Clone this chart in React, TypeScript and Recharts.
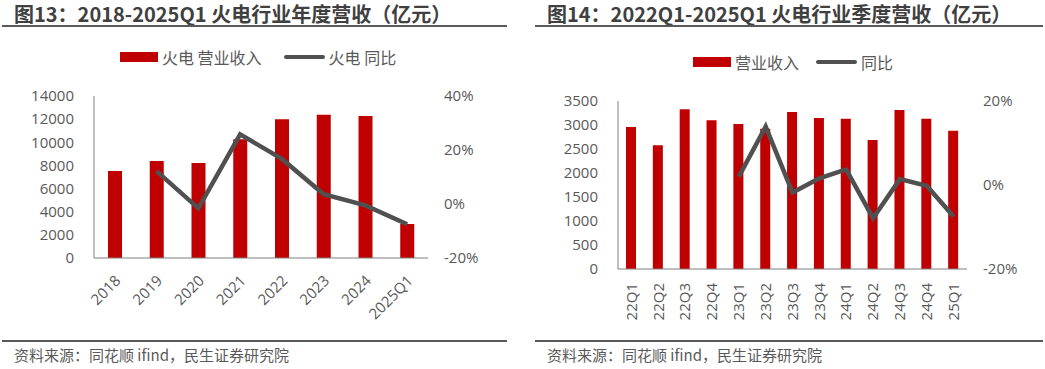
import React from "react";
import { ComposedChart, Bar, Line, XAxis, YAxis } from "recharts";

const yearCats = ["2018", "2019", "2020", "2021", "2022", "2023", "2024", "2025Q1"];
const yearRevenue = [7520, 8380, 8210, 10260, 11990, 12390, 12270, 2940];
const yearYoY: (number | null)[] = [null, 12.2, -1.6, 25.8, 16.7, 3.6, -0.5, -7.5];

const quarterCats = ["22Q1", "22Q2", "22Q3", "22Q4", "23Q1", "23Q2", "23Q3", "23Q4", "24Q1", "24Q2", "24Q3", "24Q4", "25Q1"];
const quarterRevenue = [2960, 2580, 3330, 3100, 3020, 2920, 3270, 3145, 3130, 2690, 3310, 3130, 2880];
const quarterYoY: (number | null)[] = [null, null, null, null, 2.0, 13.9, -1.8, 1.6, 3.7, -7.9, 1.4, -0.2, -7.5];

const leftTicks = [0, 2000, 4000, 6000, 8000, 10000, 12000, 14000];
const leftPctTicks = [-20, 0, 20, 40];
const rightTicks = [0, 500, 1000, 1500, 2000, 2500, 3000, 3500];
const rightPctTicks = [-20, 0, 20];

const yearData = yearCats.map((c, i) => ({ cat: c, rev: yearRevenue[i], yoy: yearYoY[i] }));
const quarterData = quarterCats.map((c, i) => ({ cat: c, rev: quarterRevenue[i], yoy: quarterYoY[i] }));

const RED = "#C00000";
const LINE = "#505050";
const TXT = "#595959";
const AXIS = "#7f7f7f";
const FONT = "'Open Sans', 'Noto Sans CJK SC', sans-serif";
const CJK = "'Noto Sans CJK SC', sans-serif";

const tickStyle = { fill: TXT, fontSize: 15, fontFamily: FONT };

const AngleTick = (props: any) => {
  const { x, y, payload } = props;
  return (
    <g transform={`translate(${x + 3},${y + 12})`}>
      <text x={0} y={0} dy="0.35em" textAnchor="end" transform="rotate(-45)" fill={TXT} fontSize={15} fontFamily={FONT}>
        {payload.value}
      </text>
    </g>
  );
};

const VertTick = (props: any) => {
  const { x, y, payload } = props;
  return (
    <g transform={`translate(${x},${y + 6})`}>
      <text x={0} y={0} dy="0.35em" textAnchor="end" transform="rotate(-90)" fill={TXT} fontSize={15} fontFamily={FONT}>
        {payload.value}
      </text>
    </g>
  );
};

const LegendBox = ({ left, top, items }: { left: number; top: number; items: { type: "bar" | "line"; label: string; gap: number }[] }) => (
  <div style={{ position: "absolute", left, top, display: "flex", alignItems: "center", fontFamily: CJK, fontSize: 16, color: TXT, whiteSpace: "nowrap" }}>
    {items.map((it, i) => (
      <div key={i} style={{ display: "flex", alignItems: "center", marginLeft: i === 0 ? 0 : it.gap }}>
        {it.type === "bar" ? (
          <div style={{ width: 38, height: 10, background: RED }} />
        ) : (
          <div style={{ width: 41, height: 4, borderRadius: 2, background: LINE }} />
        )}
        <span style={{ marginLeft: 4, lineHeight: "20px" }}>{it.label}</span>
      </div>
    ))}
  </div>
);

const Title = ({ left, text }: { left: number; text: string }) => (
  <div style={{ position: "absolute", left, top: 1, fontFamily: CJK, fontWeight: 700, fontSize: 20, color: "#404040", whiteSpace: "nowrap", lineHeight: "26px" }}>
    {text}
  </div>
);

const Rule = ({ left, width, top }: { left: number; width: number; top: number }) => (
  <div style={{ position: "absolute", left, top, width, height: 2, background: "#595959" }} />
);

const Source = ({ left }: { left: number }) => (
  <div style={{ position: "absolute", left, top: 345, fontFamily: CJK, fontSize: 15, color: TXT, whiteSpace: "nowrap", lineHeight: "20px" }}>
    资料来源：同花顺 ifind，民生证券研究院
  </div>
);

export default function App() {
  return (
    <div style={{ position: "absolute", left: 0, top: 0, width: 1045, height: 369, background: "#fff", overflow: "hidden" }}>
      <Title left={14} text="图13：2018-2025Q1 火电行业年度营收（亿元）" />
      <Rule left={2} width={505} top={25} />
      <Title left={547} text="图14：2022Q1-2025Q1 火电行业季度营收（亿元）" />
      <Rule left={535} width={508} top={25} />

      <LegendBox left={120} top={47} items={[{ type: "bar", label: "火电 营业收入", gap: 0 }, { type: "line", label: "火电 同比", gap: 22 }]} />
      <LegendBox left={693} top={52} items={[{ type: "bar", label: "营业收入", gap: 0 }, { type: "line", label: "同比", gap: 17 }]} />

      <div style={{ position: "absolute", left: 0, top: 0 }}>
        <ComposedChart width={520} height={340} data={yearData} margin={{ top: 96, right: 32, bottom: 22, left: 0 }}>
          <XAxis dataKey="cat" axisLine={{ stroke: AXIS }} tickLine={false} tick={<AngleTick />} height={60} interval={0} />
          <YAxis yAxisId="l" domain={[0, 14000]} ticks={leftTicks} width={94} axisLine={{ stroke: AXIS }} tickLine={false} tickSize={6} tickMargin={14} tick={tickStyle} />
          <YAxis yAxisId="r" orientation="right" domain={[-20, 40]} ticks={leftPctTicks} width={60} axisLine={false} tickLine={false} tickSize={6} tickMargin={10} tick={{ ...tickStyle, textAnchor: "start" }} tickFormatter={(v: number) => `${v}%`} />
          <Bar yAxisId="l" dataKey="rev" fill={RED} barSize={14} isAnimationActive={false} />
          <Line yAxisId="r" dataKey="yoy" stroke={LINE} strokeWidth={4.5} dot={false} connectNulls={false} isAnimationActive={false} />
        </ComposedChart>
      </div>

      <div style={{ position: "absolute", left: 520, top: 0 }}>
        <ComposedChart width={525} height={340} data={quarterData} margin={{ top: 101, right: 18, bottom: 21, left: 0 }}>
          <XAxis dataKey="cat" axisLine={{ stroke: AXIS }} tickLine={false} tick={<VertTick />} height={50} interval={0} />
          <YAxis yAxisId="l" domain={[0, 3500]} ticks={rightTicks} width={98} axisLine={{ stroke: AXIS }} tickLine={false} tickSize={6} tickMargin={14} tick={tickStyle} />
          <YAxis yAxisId="r" orientation="right" domain={[-20, 20]} ticks={rightPctTicks} width={60} axisLine={false} tickLine={false} tickSize={6} tickMargin={10} tick={{ ...tickStyle, textAnchor: "start" }} tickFormatter={(v: number) => `${v}%`} />
          <Bar yAxisId="l" dataKey="rev" fill={RED} barSize={10} isAnimationActive={false} />
          <Line yAxisId="r" dataKey="yoy" stroke={LINE} strokeWidth={4.5} dot={false} connectNulls={false} isAnimationActive={false} />
        </ComposedChart>
      </div>

      <Rule left={2} width={505} top={340} />
      <Rule left={535} width={508} top={340} />
      <Source left={14} />
      <Source left={547} />
    </div>
  );
}
